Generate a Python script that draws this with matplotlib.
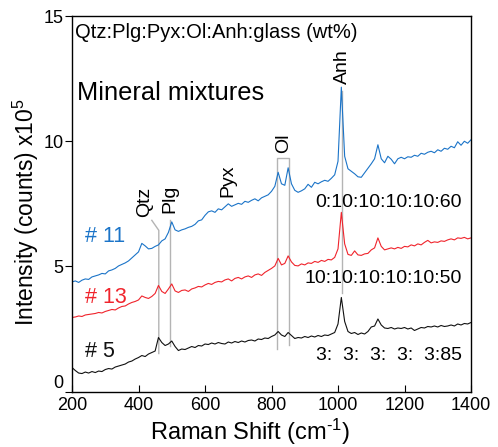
import numpy as np
import matplotlib
matplotlib.use('Agg')
import matplotlib.pyplot as plt

plt.rcParams['font.family'] = ['Liberation Sans', 'DejaVu Sans']
plt.rcParams['mathtext.fontset'] = 'custom'
plt.rcParams['mathtext.rm'] = 'Liberation Sans'

# Raman shift grid (cm-1)
shift = np.arange(200, 1401, 10)

# sample #11  (0:10:10:10:10:60)
s11 = [4.38, 4.42, 4.36, 4.45, 4.50, 4.48, 4.58, 4.62, 4.66, 4.72,
       4.70, 4.82, 4.86, 4.92, 5.02, 5.08, 5.14, 5.22, 5.34, 5.46,
       5.58, 5.92, 5.82, 5.70, 5.72, 5.80, 5.86, 6.02, 6.10, 6.36,
       6.78, 6.46, 6.40, 6.46, 6.50, 6.56, 6.60, 6.68, 6.82, 6.86,
       7.04, 7.18, 7.22, 7.16, 7.30, 7.26, 7.38, 7.50, 7.40, 7.46,
       7.52, 7.48, 7.60, 7.56, 7.64, 7.70, 7.62, 7.74, 7.80, 7.86,
       8.00, 8.20, 8.76, 8.30, 8.24, 8.94, 8.30, 8.04, 7.96, 8.02,
       8.10, 8.28, 8.16, 8.36, 8.30, 8.38, 8.44, 8.40, 8.52, 8.66,
       9.20, 12.16, 9.40, 8.90, 8.80, 8.70, 8.58, 8.56, 8.74, 8.92,
       9.10, 9.30, 9.86, 9.30, 9.14, 9.40, 9.28, 9.10, 9.30, 9.36,
       9.30, 9.38, 9.36, 9.44, 9.40, 9.52, 9.48, 9.56, 9.60, 9.54,
       9.66, 9.60, 9.72, 9.68, 9.80, 9.74, 9.98, 9.84, 10.00, 9.92,
       10.06]

# sample #13  (10:10:10:10:10:50)
s13 = [2.96, 2.98, 3.02, 3.00, 3.06, 3.08, 3.10, 3.12, 3.16, 3.14,
       3.20, 3.24, 3.28, 3.26, 3.34, 3.40, 3.42, 3.50, 3.56, 3.60,
       3.66, 3.82, 3.76, 3.72, 3.80, 3.92, 4.24, 4.00, 3.92, 4.10,
       4.30, 4.02, 3.96, 4.04, 4.06, 4.00, 4.10, 4.14, 4.20, 4.18,
       4.26, 4.32, 4.28, 4.36, 4.40, 4.38, 4.46, 4.50, 4.42, 4.52,
       4.56, 4.50, 4.58, 4.62, 4.56, 4.66, 4.70, 4.64, 4.76, 4.84,
       4.92, 5.02, 5.32, 5.06, 5.12, 5.42, 5.18, 5.04, 5.02, 5.10,
       5.06, 5.14, 5.12, 5.20, 5.16, 5.24, 5.20, 5.28, 5.26, 5.36,
       5.70, 7.16, 5.90, 5.48, 5.44, 5.62, 5.46, 5.44, 5.50, 5.52,
       5.66, 5.74, 6.14, 5.80, 5.66, 5.70, 5.74, 5.70, 5.76, 5.72,
       5.80, 5.78, 5.86, 5.82, 5.90, 5.86, 5.96, 6.04, 5.94, 5.98,
       5.96, 6.02, 6.00, 6.06, 6.10, 6.06, 6.14, 6.12, 6.16, 6.10,
       6.14]

# sample #5  (3:3:3:3:3:85)
s5 = [0.96, 0.84, 0.74, 0.72, 0.78, 0.74, 0.80, 0.76, 0.82, 0.80,
      0.88, 0.92, 0.90, 0.98, 1.02, 1.06, 1.10, 1.18, 1.22, 1.30,
      1.36, 1.44, 1.40, 1.50, 1.56, 1.62, 2.16, 1.96, 1.84, 1.90,
      2.02, 1.80, 1.64, 1.70, 1.68, 1.74, 1.80, 1.76, 1.84, 1.82,
      1.90, 1.88, 1.94, 1.90, 1.96, 1.92, 1.90, 1.98, 1.94, 2.00,
      1.96, 2.02, 1.98, 2.04, 2.06, 2.02, 2.10, 2.08, 2.14, 2.12,
      2.20, 2.26, 2.40, 2.26, 2.20, 2.36, 2.24, 2.12, 2.16, 2.14,
      2.20, 2.16, 2.22, 2.18, 2.24, 2.20, 2.26, 2.24, 2.30, 2.36,
      2.70, 3.76, 2.80, 2.40, 2.32, 2.36, 2.28, 2.34, 2.30, 2.40,
      2.58, 2.62, 2.90, 2.66, 2.54, 2.52, 2.56, 2.50, 2.54, 2.52,
      2.56, 2.50, 2.54, 2.44, 2.50, 2.56, 2.54, 2.60, 2.58, 2.62,
      2.58, 2.64, 2.60, 2.62, 2.66, 2.62, 2.70, 2.66, 2.72, 2.70,
      2.76]

labels = ['# 11', '# 13', '# 5']
ratios = ['0:10:10:10:10:60', '10:10:10:10:10:50', '3:  3:  3:  3:  3:85']
colors = ['#1b74c8', '#f0242c', '#111111']

fig = plt.figure(figsize=(4.98, 4.47), dpi=100)
ax = fig.add_axes([0.1446, 0.124, 0.8012, 0.840])

gray = '#b4b4b4'
# peak marker lines
ax.plot([461, 461, 440], [1.52, 6.44, 6.84], color=gray, lw=1, zorder=1)
ax.plot([494, 494], [1.84, 6.84], color=gray, lw=1, zorder=1)
ax.plot([818, 818, 854, 854], [1.72, 9.32, 9.32, 1.88], color=gray, lw=1, zorder=1)
ax.plot([1013, 1013], [3.92, 12.0], color=gray, lw=1, zorder=1)

for ys, c in zip([s11, s13, s5], colors):
    ax.plot(shift, ys, color=c, lw=0.8, zorder=2)

# sample labels
ax.text(239, 5.98, labels[0], color=colors[0], fontsize=15.5)
ax.text(239, 3.54, labels[1], color=colors[1], fontsize=15.5)
ax.text(239, 1.38, labels[2], color=colors[2], fontsize=15.5)

# composition labels
ax.text(1373, 7.36, ratios[0], ha='right', fontsize=14)
ax.text(1373, 4.32, ratios[1], ha='right', fontsize=14)
ax.text(1373, 1.28, ratios[2], ha='right', fontsize=14)

# mineral labels
for name, xx, yy in [('Qtz', 419, 6.98), ('Plg', 494, 7.14), ('Pyx', 668, 7.78),
                     ('Ol', 836, 9.54), ('Anh', 1013, 12.3)]:
    ax.text(xx, yy, name, rotation=90, ha='center', va='bottom', fontsize=14)

ax.text(209, 14.14, 'Qtz:Plg:Pyx:Ol:Anh:glass (wt%)', fontsize=14.5)
ax.text(215, 11.66, 'Mineral mixtures', fontsize=18.3)

ax.set_xlim(200, 1400)
ax.set_ylim(0, 15)
ax.set_xticks([200, 400, 600, 800, 1000, 1200, 1400])
ax.set_yticks([0, 5, 10, 15])
ax.tick_params(axis='x', direction='in', length=5, pad=4, labelsize=13)
ax.tick_params(axis='y', direction='out', length=5, pad=1, labelsize=13)
ax.get_yticklabels()[0].set_verticalalignment('bottom')
ax.set_xlabel('Raman Shift (cm$\\mathregular{^{\u2010 1}}$)', fontsize=17)
ax.set_ylabel('Intensity (counts) x10$\\mathregular{^5}$', fontsize=16.5)
ax.xaxis.set_label_coords(0.445, -0.066)
ax.yaxis.set_label_coords(-0.078, 0.478)
for sp in ax.spines.values():
    sp.set_linewidth(1)

plt.savefig('out.png', dpi=100)
